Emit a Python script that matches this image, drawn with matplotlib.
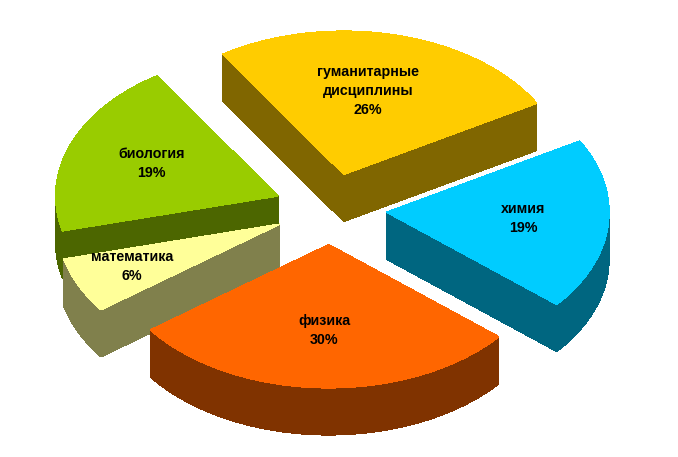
import matplotlib
matplotlib.use("Agg")
import matplotlib.pyplot as plt
import numpy as np

#Exploded pseudo-3D pie, drawn in pixel coordinates of the figure
categories = ["гуманитарные\nдисциплины", "химия", "физика", "математика", "биология"]
shares = [26, 19, 30, 6, 19]
#slice sizes as they really look in the picture (the 3D view distorts them)
drawn_shares = [25.9, 19.4, 28.7, 6.25, 19.75]
top_colors = ["#FFCC00", "#00CCFF", "#FF6600", "#FFFF99", "#99CC00"]
side_colors = ["#806600", "#006680", "#803300", "#80804C", "#4C6600"]

W, H = 678, 457
center_x, center_y = 330.5, 209
rx, ry = 222, 143
depth = 47
explode_x, explode_y = 0.255, 0.25
start_angle = -123
#back slices first so the front ones cover them
draw_order = [0, 4, 1, 3, 2]
label_pos = [0.62, 0.62, 0.55, 0.72, 0.62]
label_shift = [(-8, 3), (-1, -2), (-1, 7), (-3, -2), (2, 0)]

plt.rcParams['font.family'] = ['Liberation Sans', 'DejaVu Sans']
fig = plt.figure(figsize=(W/100, H/100), dpi=100)
ax = fig.add_axes([0, 0, 1, 1])
ax.set_xlim(0, W)
ax.set_ylim(H, 0)
ax.axis('off')

angles = start_angle + np.cumsum([0] + drawn_shares) * 3.6

for i in draw_order:
    a0, a1 = angles[i], angles[i+1]
    mid = np.radians((a0 + a1) / 2)
    apex_x = center_x + explode_x * rx * np.cos(mid)
    apex_y = center_y + explode_y * ry * np.sin(mid)
    t = np.radians(np.linspace(a0, a1, 120))
    arc_x = apex_x + rx * np.cos(t)
    arc_y = apex_y + ry * np.sin(t)

    #outer rim, only the part facing the viewer
    front = np.sin(t) >= 0
    if front.any():
        fx, fy = arc_x[front], arc_y[front]
        ax.fill(np.r_[fx, fx[::-1]], np.r_[fy, fy[::-1] + depth], color=side_colors[i], lw=0.5, antialiased=False)
    #the two cut faces
    for k in [0, -1]:
        ax.fill([apex_x, arc_x[k], arc_x[k], apex_x],
                [apex_y, arc_y[k], arc_y[k] + depth, apex_y + depth],
                color=side_colors[i], lw=0.5, antialiased=False)
    #top face
    ax.fill(np.r_[apex_x, arc_x], np.r_[apex_y, arc_y], color=top_colors[i], lw=0.5, antialiased=False)

    lx = apex_x + label_pos[i] * rx * np.cos(mid) + label_shift[i][0]
    ly = apex_y + label_pos[i] * ry * np.sin(mid) + label_shift[i][1]
    ax.text(lx, ly, categories[i] + "\n" + str(shares[i]) + "%", ha='center', va='center',
            fontsize=10.3, fontweight='bold', color='black', linespacing=1.48, zorder=5)

fig.savefig("out.png", dpi=100, facecolor='white')
